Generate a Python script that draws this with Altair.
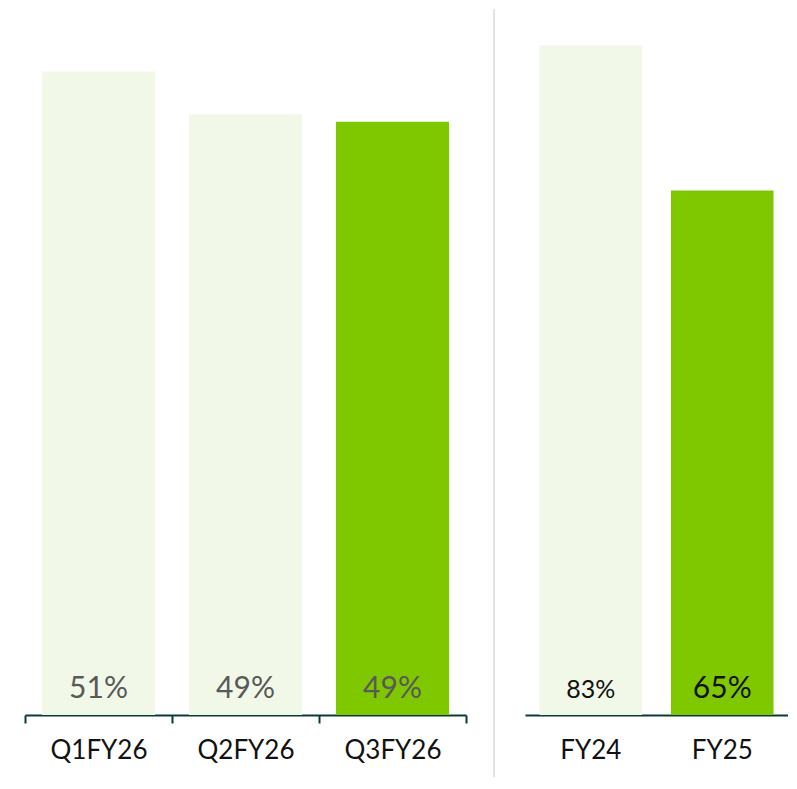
import altair as alt
import pandas as pd

# ---- data ----
q_periods = ["Q1FY26", "Q2FY26", "Q3FY26"]
q_values = [51.0, 49.3, 49.0]
q_kind = ["prior", "prior", "current"]

y_periods = ["FY24", "FY25"]
y_values = [83.0, 65.0]
y_kind = ["prior", "current"]

LIGHT = "#F1F8E8"
GREEN = "#7FC800"
AXIS = "#0B3A3C"
FONT = "Lato"
H = 706

dq = pd.DataFrame({"period": q_periods, "value": q_values, "kind": q_kind})
dq["label"] = [f"{round(v)}%" for v in q_values]
dy_ = pd.DataFrame({"period": y_periods, "value": y_values, "kind": y_kind})
dy_["label"] = [f"{round(v)}%" for v in y_values]

color = alt.Color("kind:N", scale=alt.Scale(domain=["prior", "current"], range=[LIGHT, GREEN]), legend=None)


def xenc(order, ticks_visible):
    if ticks_visible:
        axis = alt.Axis(
            labelAngle=0, labelFont=FONT, labelFontSize=26, labelColor="#111111",
            labelPadding=14, domainColor=AXIS, domainWidth=2,
            tickColor=AXIS, tickWidth=2, tickSize=8, tickBand="extent",
        )
    else:
        axis = alt.Axis(
            labelAngle=0, labelFont=FONT, labelFontSize=26, labelColor="#111111",
            labelPadding=22, domainColor=AXIS, domainWidth=2, ticks=False,
        )
    return alt.X(
        "period:N", sort=order, title=None,
        scale=alt.Scale(paddingInner=0, paddingOuter=0),
        axis=axis,
    )


# ---- left panel ----
q_min, q_max = 25.3, 53.5
yq = alt.Y("value:Q", scale=alt.Scale(domain=[q_min, q_max], zero=False, nice=False), axis=None)
base_q = alt.Chart(dq)
bars_q = base_q.mark_bar(width=alt.RelativeBandSize(0.77)).encode(
    x=xenc(q_periods, True), y=yq, y2=alt.datum(q_min), color=color
)
text_q = base_q.mark_text(font=FONT, fontSize=30, color="#595959", baseline="alphabetic", dy=-17).encode(
    x=xenc(q_periods, True), y=alt.datum(q_min), text="label:N"
)
left = alt.layer(bars_q, text_q).properties(width=441, height=H)

# ---- right panel ----
y_min, y_max = 0, 87.5
yy = alt.Y("value:Q", scale=alt.Scale(domain=[y_min, y_max], nice=False), axis=None)
base_y = alt.Chart(dy_)
bars_y = base_y.mark_bar(width=alt.RelativeBandSize(0.78)).encode(
    x=xenc(y_periods, False), y=yy, y2=alt.datum(y_min), color=color
)
text_y = base_y.mark_text(font=FONT, color="#111111", baseline="alphabetic", dy=-17).encode(
    x=xenc(y_periods, False), y=alt.datum(y_min), text="label:N",
    size=alt.condition(alt.datum.kind == "current", alt.value(30), alt.value(25)),
)
divider = alt.Chart(pd.DataFrame({"d": [0]})).mark_rule(color="#E3E3E3", strokeWidth=2).encode(
    x=alt.value(-31), y=alt.value(0), y2=alt.value(768)
)
right = alt.layer(bars_y, text_y, divider).properties(width=263, height=H)

chart = (
    alt.hconcat(left, right, spacing=59, bounds="flush")
    .properties(padding={"left": 16, "top": 0, "right": 0, "bottom": 0}, background="white")
    .configure_view(strokeWidth=0)
)

chart.save("out.html", embed_options={"renderer": "svg", "actions": False})
